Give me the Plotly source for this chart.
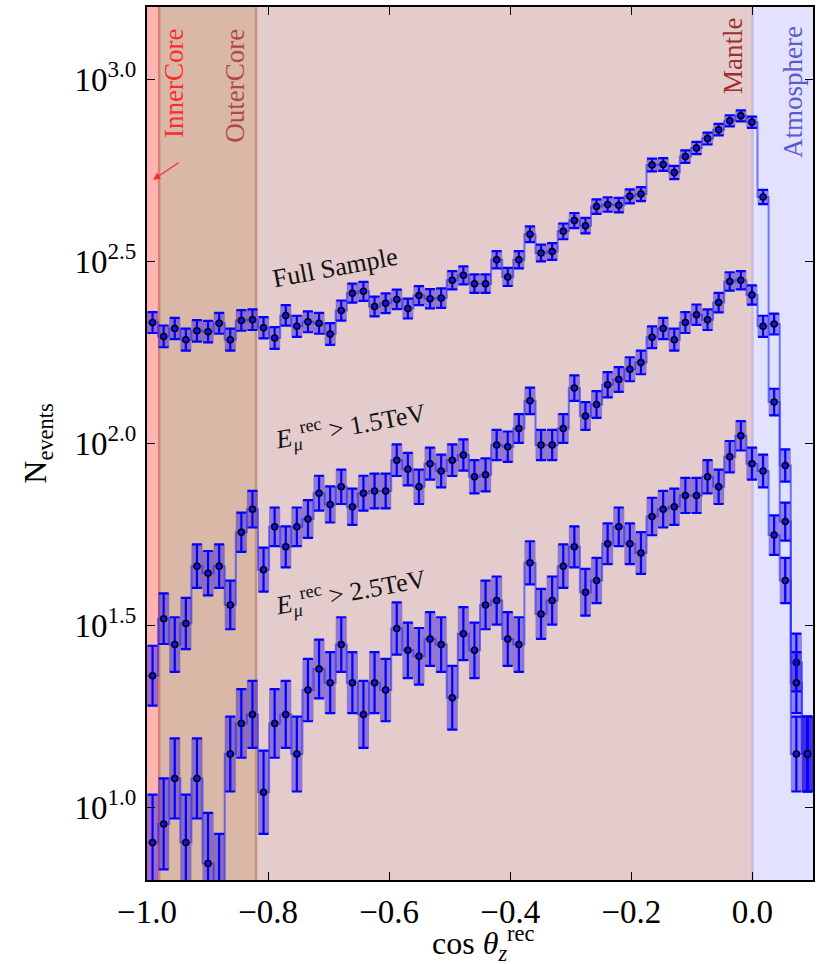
import numpy as np
import plotly.graph_objects as go

# 60 equal-width bins in reconstructed cos(zenith), from -1.0 up to 0.1
cos_edges = np.linspace(-1.0, 0.1, 61)

# Event counts per bin
n_full = [215, 197, 207, 193, 204, 203, 214, 193, 218, 219,
          208, 195, 225, 210, 216, 214, 200, 232, 259, 262,
          238, 243, 249, 235, 255, 250, 251, 281, 290, 275,
          275, 320, 287, 320, 376, 334, 337, 383, 410, 397,
          448, 454, 452, 478, 485, 583, 585, 556, 615, 649,
          689, 729, 771, 796, 764, 476, 213, 87, 25, 14]

n_e15 = [23, 33, 28, 32, 46, 44, 46, 36, 57, 66,
         45, 59, 52, 59, 62, 73, 68, 76, 67, 73,
         74, 74, 90, 85, 76, 88, 84, 90, 93, 81,
         82, 99, 98, 110, 131, 99, 99, 110, 142, 119,
         128, 145, 150, 160, 167, 196, 207, 193, 215, 226,
         219, 244, 279, 281, 256, 210, 130, 61, 22, 14]

n_e25 = [8, 9, 12, 8, 12, 7, 6, 14, 17, 18,
         11, 17, 18, 14, 21, 24, 22, 28, 22, 18,
         22, 21, 31, 27, 26, 29, 28, 20, 30, 27,
         36, 37, 29, 28, 47, 34, 37, 46, 52, 39,
         42, 53, 59, 53, 50, 63, 66, 67, 72, 72,
         81, 76, 92, 105, 88, 84, 56, 42, 14, 14]

series = [("Full Sample", n_full), ("E > 1.5 TeV", n_e15), ("E > 2.5 TeV", n_e25)]

# Earth layers crossed by the muon track
layer_names = ["InnerCore", "OuterCore", "Mantle", "Atmosphere"]
layer_lo = [-1.0, -0.98, -0.82, 0.0]
layer_hi = [-0.98, -0.82, 0.0, 0.1]
layer_fill = ["#ffb4b4", "#d9b8a8", "#e4cccc", "#e2e2fe"]
layer_text_color = ["#ff2a2a", "#b04848", "#a32c2c", "#5a5ad0"]
edge_color = {-0.98: "#d08478", -0.82: "#c9917f", 0.0: "#cdb9dc"}

FONT = "Liberation Serif, DejaVu Serif, serif"

fig = go.Figure()

centers = 0.5 * (cos_edges[:-1] + cos_edges[1:])

# Uncertainty boxes (Poisson-like band)
for name, counts in series:
    n = np.asarray(counts, dtype=float)
    rel = 1.0 + 1.0 / np.sqrt(n)
    lo, hi = n / rel, n * rel
    bx, by = [], []
    for k in range(len(n)):
        xl, xr = cos_edges[k], cos_edges[k + 1]
        bx += [xl, xr, xr, xl, xl, None]
        by += [lo[k], lo[k], hi[k], hi[k], lo[k], None]
    fig.add_trace(go.Scatter(x=bx, y=by, mode="lines", fill="toself",
                             fillcolor="rgba(30,0,220,0.42)",
                             line=dict(width=0), hoverinfo="skip",
                             showlegend=False))

# Step histograms
for name, counts in series:
    fig.add_trace(go.Scatter(x=cos_edges, y=list(counts) + [counts[-1]],
                             mode="lines", line_shape="hv",
                             line=dict(color="rgba(40,40,255,0.6)", width=2),
                             hoverinfo="skip", showlegend=False))

# Error bars and central values
for name, counts in series:
    n = np.asarray(counts, dtype=float)
    rel = 1.0 + 1.0 / np.sqrt(n)
    fig.add_trace(go.Scatter(
        x=centers, y=n, mode="markers", name=name, showlegend=False,
        marker=dict(size=6, color="#1010ff", line=dict(color="black", width=1.5)),
        error_y=dict(type="data", symmetric=False, array=n * rel - n,
                     arrayminus=n - n / rel, color="#0000ff",
                     thickness=2.2, width=5),
    ))

shapes = []
for lo_, hi_, col in zip(layer_lo, layer_hi, layer_fill):
    shapes.append(dict(type="rect", xref="x", yref="paper", x0=lo_, x1=hi_,
                       y0=0, y1=1, fillcolor=col, line=dict(width=0),
                       layer="below"))
for xb, col in edge_color.items():
    shapes.append(dict(type="line", xref="x", yref="paper", x0=xb, x1=xb,
                       y0=0, y1=1, line=dict(color=col, width=2.5),
                       layer="below"))

annotations = []
# Layer names, written vertically
layer_label_x = [-0.955, -0.856, -0.032, 0.066]
layer_label_y = [0.912, 0.910, 0.944, 0.903]
for name, xl, yl, col in zip(layer_names, layer_label_x, layer_label_y,
                             layer_text_color):
    annotations.append(dict(text=name, x=xl, y=yl, xref="x", yref="paper",
                            xanchor="center", yanchor="middle",
                            showarrow=False, textangle=-90,
                            font=dict(family=FONT, size=27, color=col)))

# Pointer to the thin inner-core strip
annotations.append(dict(text="", x=-0.99, y=0.802, xref="x", yref="paper",
                        showarrow=True, ax=27, ay=-18, arrowhead=2,
                        arrowsize=1.2, arrowwidth=1.2, arrowcolor="#ff2a2a"))

# Series labels
series_labels = ["Full Sample",
                 "<i>E</i><sub><i>μ</i></sub><sup>rec</sup> > 1.5TeV",
                 "<i>E</i><sub><i>μ</i></sub><sup>rec</sup> > 2.5TeV"]
label_x = [-0.689, -0.664, -0.664]
label_y = [2.484, 2.047, 1.593]
for txt, xl, yl in zip(series_labels, label_x, label_y):
    annotations.append(dict(text=txt, x=xl, y=yl, xref="x", yref="y",
                            xanchor="center", yanchor="middle",
                            showarrow=False, textangle=-10.5,
                            font=dict(family=FONT, size=26, color="#111111")))

# x-axis title, placed below the tick labels
annotations.append(dict(text="cos <i>θ</i><sub><i>z</i></sub><sup>rec</sup>",
                        x=0.505, y=-0.073, xref="paper", yref="paper",
                        xanchor="center", yanchor="middle", showarrow=False,
                        font=dict(family=FONT, size=32, color="black")))

x_ticks = [-1.0, -0.8, -0.6, -0.4, -0.2, 0.0]
x_ticktext = ["\u22121.0", "\u22120.8", "\u22120.6", "\u22120.4", "\u22120.2", "0.0"]
y_exps = [1.0, 1.5, 2.0, 2.5, 3.0]
y_ticks = [10 ** e for e in y_exps]
y_ticktext = ["10<sup>%.1f</sup>" % e for e in y_exps]

fig.update_layout(
    width=819, height=964,
    margin=dict(l=147, r=6, t=7, b=84),
    paper_bgcolor="white", plot_bgcolor="white",
    font=dict(family=FONT, size=32, color="black"),
    shapes=shapes, annotations=annotations,
    xaxis=dict(range=[-1.0, 0.1], tickvals=x_ticks, ticktext=x_ticktext,
               automargin=False,
               ticks="inside", ticklen=8, tickwidth=1.2, tickcolor="black",
               showline=True, linewidth=2, linecolor="black", mirror="ticks",
               showgrid=False, zeroline=False, ticklabelstandoff=1,
               tickfont=dict(family=FONT, size=33)),
    yaxis=dict(type="log", range=[0.8, 3.2], tickvals=y_ticks,
               ticktext=y_ticktext, automargin=False,
               ticks="inside", ticklen=8, tickwidth=1.2, tickcolor="black",
               showline=True, linewidth=2, linecolor="black", mirror="ticks",
               showgrid=False, zeroline=False, ticklabelstandoff=2,
               tickfont=dict(family=FONT, size=33),
               title=dict(text="N<sub>events</sub>",
                          font=dict(family=FONT, size=32), standoff=18)),
)

fig.write_html("out.html")
